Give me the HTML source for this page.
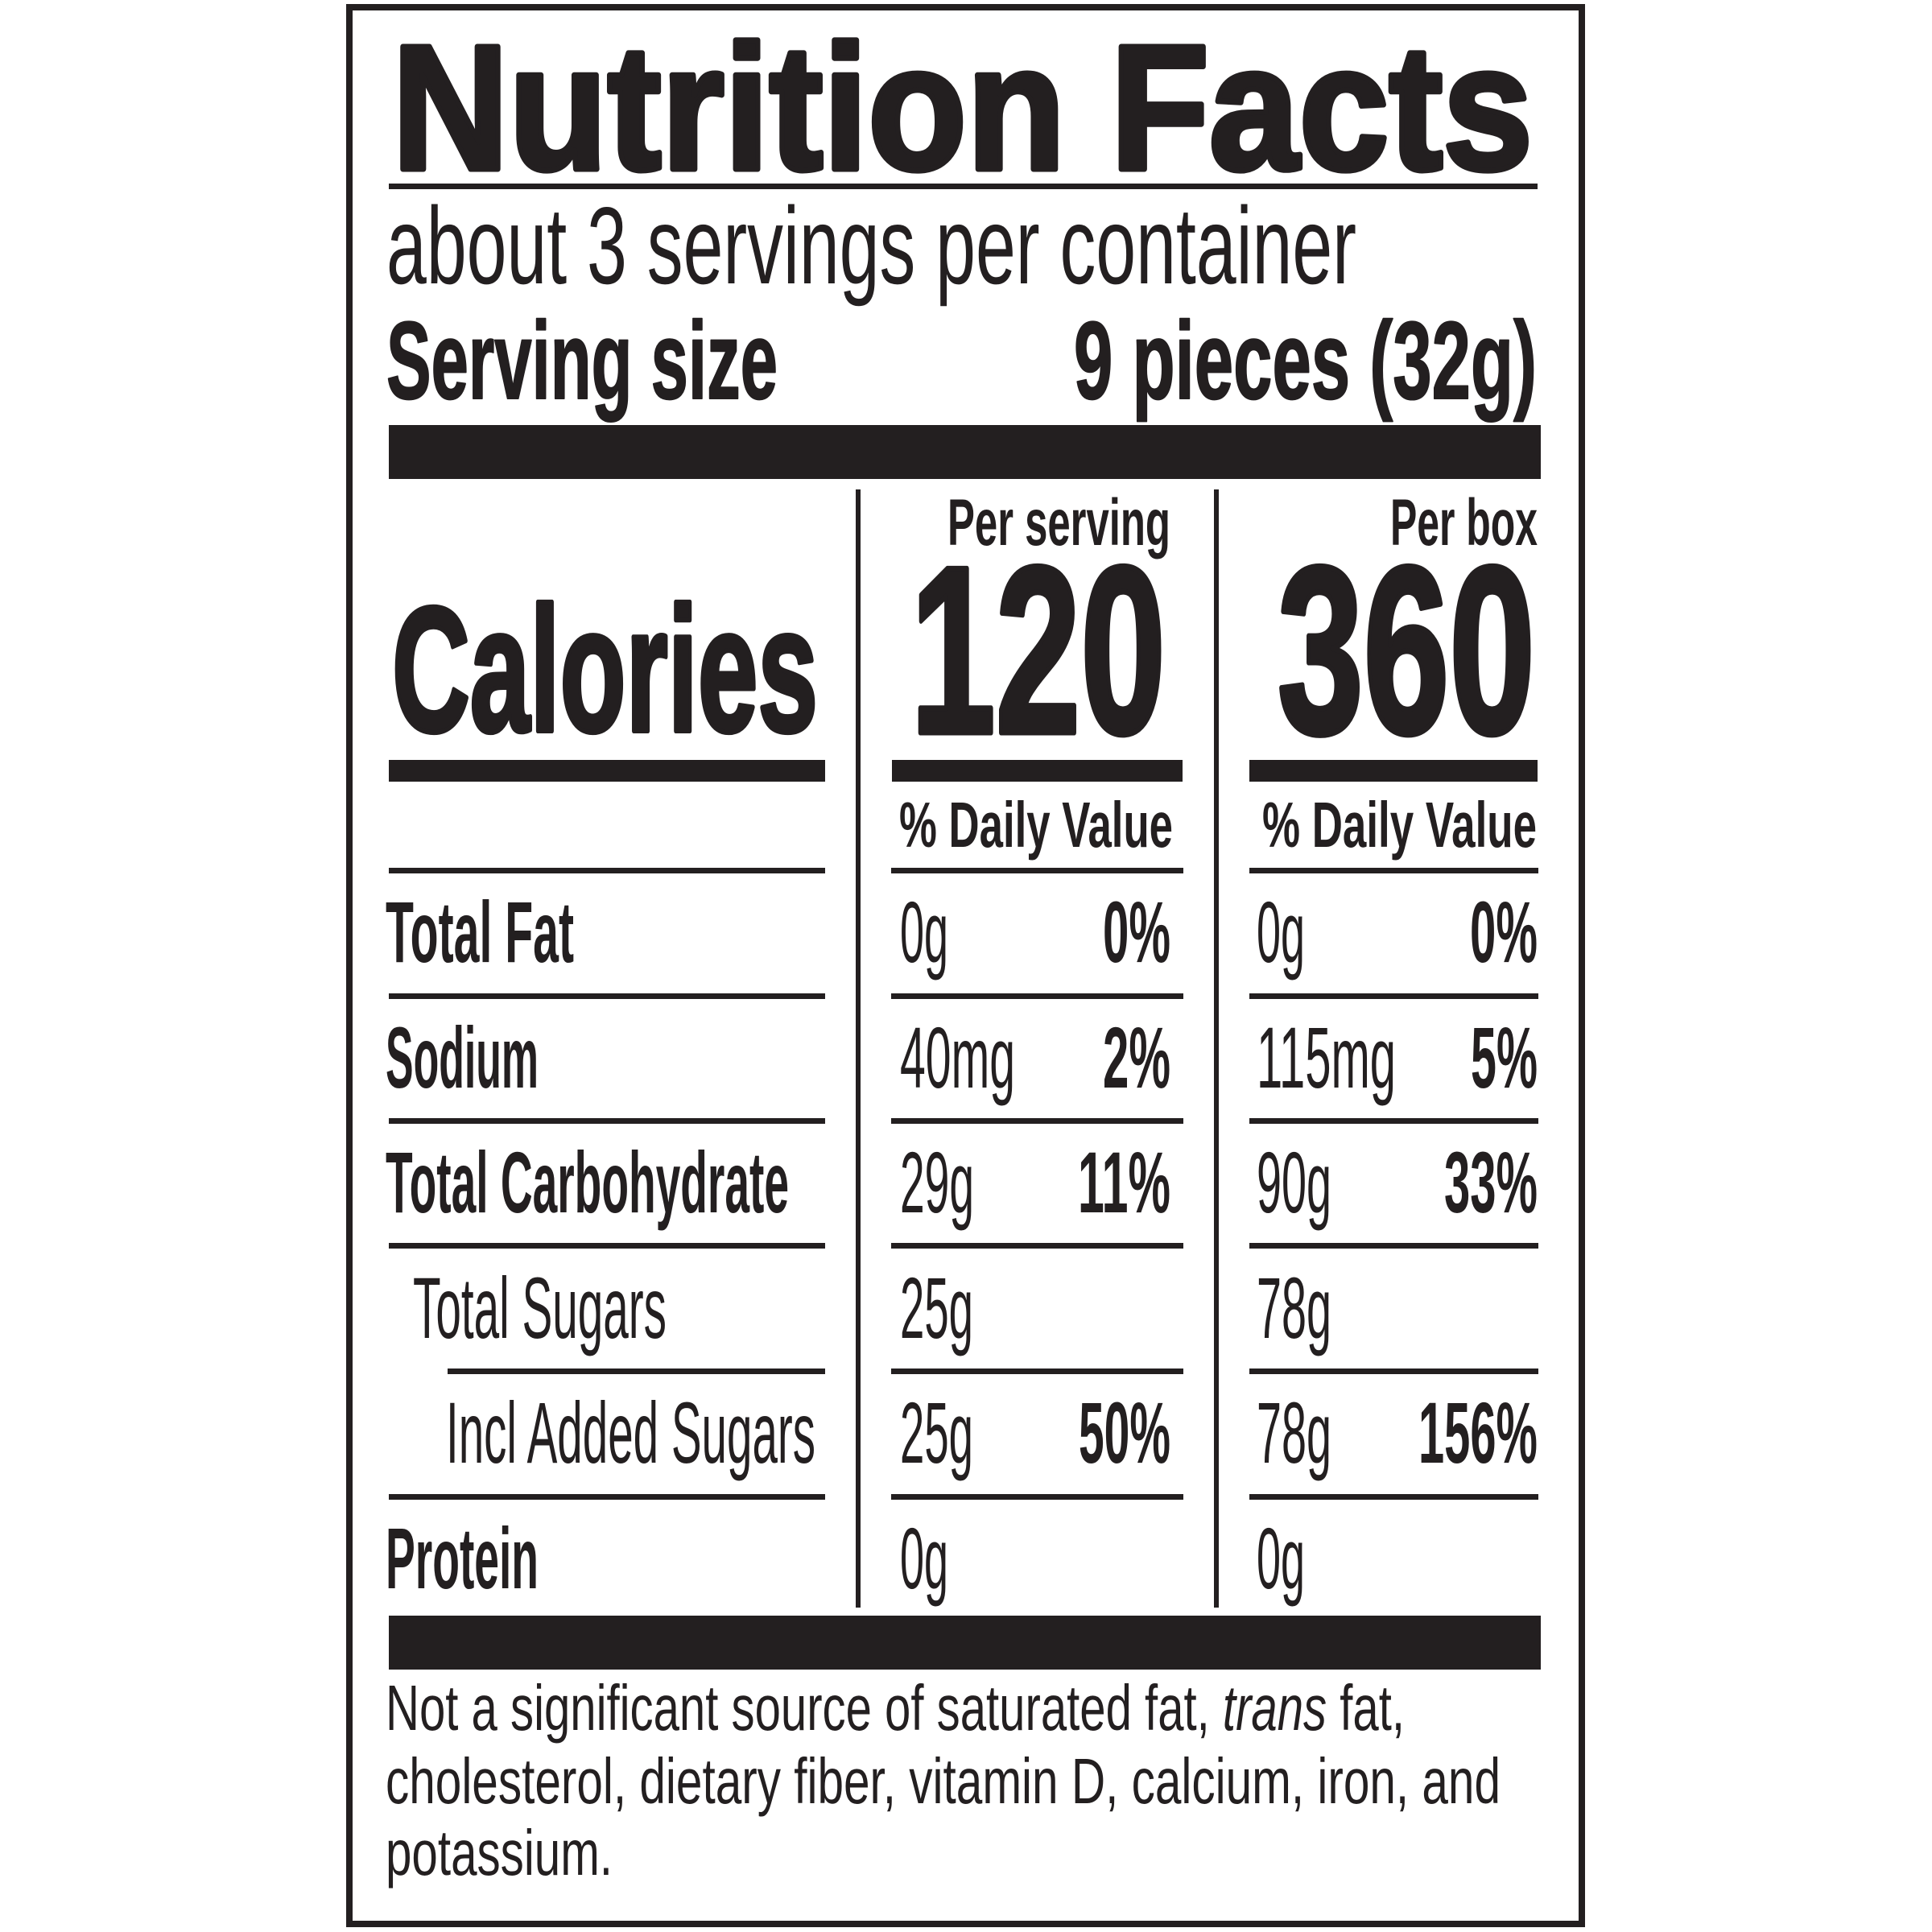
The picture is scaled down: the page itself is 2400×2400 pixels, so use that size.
<!DOCTYPE html>
<html>
<head>
<meta charset="utf-8">
<style>
  html,body{margin:0;padding:0;background:#fff;}
  svg{display:block;}
  text{font-family:"Liberation Sans",Arial,sans-serif;fill:#231f20;}
  .b{font-weight:bold;}
  .heavy{stroke:#231f20;stroke-linejoin:round;}
</style>
</head>
<body>
<svg width="2400" height="2400" viewBox="0 0 2400 2400" xmlns="http://www.w3.org/2000/svg">
  <rect x="0" y="0" width="2400" height="2400" fill="#fff"/>
  <!-- outer border -->
  <rect x="434" y="9" width="1531" height="2381" fill="none" stroke="#231f20" stroke-width="8"/>

  <g fill="#231f20">
    <!-- rule under title -->
    <rect x="483" y="228" width="1427" height="7"/>
    <!-- thick bar -->
    <rect x="483" y="528" width="1431" height="67"/>
    <!-- vertical lines -->
    <rect x="1063" y="608" width="6" height="1389"/>
    <rect x="1508" y="608" width="6" height="1389"/>
    <!-- medium bars -->
    <rect x="483" y="944" width="542" height="27"/>
    <rect x="1108" y="944" width="361" height="27"/>
    <rect x="1552" y="944" width="358" height="27"/>
    <!-- thin row lines -->
    <rect x="483" y="1078" width="542" height="7"/>
    <rect x="1107" y="1078" width="363" height="7"/>
    <rect x="1552" y="1078" width="359" height="7"/>

    <rect x="483" y="1234" width="542" height="7"/>
    <rect x="1107" y="1234" width="363" height="7"/>
    <rect x="1552" y="1234" width="359" height="7"/>

    <rect x="483" y="1389" width="542" height="7"/>
    <rect x="1107" y="1389" width="363" height="7"/>
    <rect x="1552" y="1389" width="359" height="7"/>

    <rect x="483" y="1544" width="542" height="7"/>
    <rect x="1107" y="1544" width="363" height="7"/>
    <rect x="1552" y="1544" width="359" height="7"/>

    <rect x="556" y="1700" width="469" height="7"/>
    <rect x="1107" y="1700" width="363" height="7"/>
    <rect x="1552" y="1700" width="359" height="7"/>

    <rect x="483" y="1856" width="542" height="7"/>
    <rect x="1107" y="1856" width="363" height="7"/>
    <rect x="1552" y="1856" width="359" height="7"/>
    <!-- bottom bar -->
    <rect x="483" y="2007" width="1431" height="67"/>
  </g>

  <!-- header -->
  <text class="b heavy" x="487" y="210" font-size="221" stroke-width="7" textLength="1417" lengthAdjust="spacingAndGlyphs">Nutrition Facts</text>
  <text x="480" y="352" font-size="136" textLength="1205" lengthAdjust="spacingAndGlyphs">about 3 servings per container</text>
  <text class="b heavy" x="480" y="495" font-size="137" stroke-width="2" textLength="486" lengthAdjust="spacingAndGlyphs">Serving size</text>
  <text class="b heavy" x="1334" y="495" font-size="137" stroke-width="2" textLength="575" lengthAdjust="spacingAndGlyphs">9 pieces (32g)</text>

  <!-- calories block -->
  <text class="b" x="1177" y="677" font-size="82" textLength="277" lengthAdjust="spacingAndGlyphs">Per serving</text>
  <text class="b" x="1727" y="677" font-size="82" textLength="183" lengthAdjust="spacingAndGlyphs">Per box</text>
  <text class="b heavy" x="487" y="908" font-size="221" stroke-width="6" textLength="529" lengthAdjust="spacingAndGlyphs">Calories</text>
  <text class="b heavy" x="1131" y="910" font-size="296" stroke-width="7" textLength="317" lengthAdjust="spacingAndGlyphs">120</text>
  <text class="b heavy" x="1587" y="910" font-size="296" stroke-width="7" textLength="320" lengthAdjust="spacingAndGlyphs">360</text>
  <text class="b" x="1117" y="1052" font-size="80" textLength="340" lengthAdjust="spacingAndGlyphs">% Daily Value</text>
  <text class="b" x="1568" y="1052" font-size="80" textLength="341" lengthAdjust="spacingAndGlyphs">% Daily Value</text>

  <!-- row labels -->
  <text class="b" x="479" y="1195" font-size="108" textLength="234" lengthAdjust="spacingAndGlyphs">Total Fat</text>
  <text class="b" x="479" y="1351" font-size="108" textLength="190" lengthAdjust="spacingAndGlyphs">Sodium</text>
  <text class="b" x="479" y="1506" font-size="108" textLength="501" lengthAdjust="spacingAndGlyphs">Total Carbohydrate</text>
  <text x="513" y="1662" font-size="108" textLength="315" lengthAdjust="spacingAndGlyphs">Total Sugars</text>
  <text x="554" y="1817" font-size="108" textLength="459" lengthAdjust="spacingAndGlyphs">Incl Added Sugars</text>
  <text class="b" x="479" y="1973" font-size="108" textLength="190" lengthAdjust="spacingAndGlyphs">Protein</text>

  <!-- column 1 values -->
  <text x="1118" y="1195" font-size="108" textLength="60" lengthAdjust="spacingAndGlyphs">0g</text>
  <text x="1118" y="1351" font-size="108" textLength="143" lengthAdjust="spacingAndGlyphs">40mg</text>
  <text x="1118" y="1506" font-size="108" textLength="92" lengthAdjust="spacingAndGlyphs">29g</text>
  <text x="1118" y="1662" font-size="108" textLength="91" lengthAdjust="spacingAndGlyphs">25g</text>
  <text x="1118" y="1817" font-size="108" textLength="91" lengthAdjust="spacingAndGlyphs">25g</text>
  <text x="1118" y="1973" font-size="108" textLength="60" lengthAdjust="spacingAndGlyphs">0g</text>

  <text class="b" x="1370" y="1195" font-size="108" textLength="84" lengthAdjust="spacingAndGlyphs">0%</text>
  <text class="b" x="1370" y="1351" font-size="108" textLength="84" lengthAdjust="spacingAndGlyphs">2%</text>
  <text class="b" x="1339" y="1506" font-size="108" textLength="115" lengthAdjust="spacingAndGlyphs">11%</text>
  <text class="b" x="1340" y="1817" font-size="108" textLength="114" lengthAdjust="spacingAndGlyphs">50%</text>

  <!-- column 2 values -->
  <text x="1561" y="1195" font-size="108" textLength="60" lengthAdjust="spacingAndGlyphs">0g</text>
  <text x="1561" y="1351" font-size="108" textLength="173" lengthAdjust="spacingAndGlyphs">115mg</text>
  <text x="1561" y="1506" font-size="108" textLength="93" lengthAdjust="spacingAndGlyphs">90g</text>
  <text x="1561" y="1662" font-size="108" textLength="93" lengthAdjust="spacingAndGlyphs">78g</text>
  <text x="1561" y="1817" font-size="108" textLength="93" lengthAdjust="spacingAndGlyphs">78g</text>
  <text x="1561" y="1973" font-size="108" textLength="60" lengthAdjust="spacingAndGlyphs">0g</text>

  <text class="b" x="1826" y="1195" font-size="108" textLength="84" lengthAdjust="spacingAndGlyphs">0%</text>
  <text class="b" x="1827" y="1351" font-size="108" textLength="83" lengthAdjust="spacingAndGlyphs">5%</text>
  <text class="b" x="1794" y="1506" font-size="108" textLength="116" lengthAdjust="spacingAndGlyphs">33%</text>
  <text class="b" x="1762" y="1817" font-size="108" textLength="148" lengthAdjust="spacingAndGlyphs">156%</text>

  <!-- footnote -->
  <text x="479" y="2149" font-size="80" textLength="1266" lengthAdjust="spacingAndGlyphs">Not a significant source of saturated fat, <tspan font-style="italic">trans</tspan> fat,</text>
  <text x="479" y="2240" font-size="80" textLength="1385" lengthAdjust="spacingAndGlyphs">cholesterol, dietary fiber, vitamin D, calcium, iron, and</text>
  <text x="479" y="2329" font-size="80" textLength="282" lengthAdjust="spacingAndGlyphs">potassium.</text>
</svg>
</body>
</html>
